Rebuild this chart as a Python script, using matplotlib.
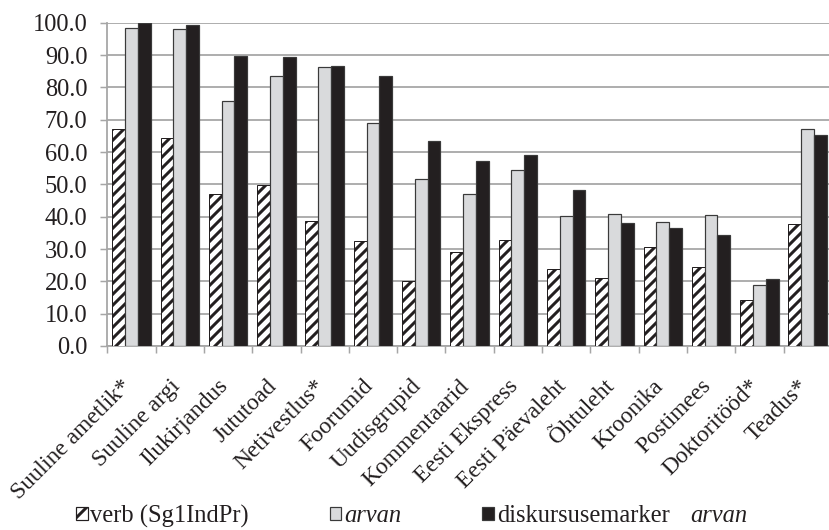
import numpy as np
import matplotlib
matplotlib.use("Agg")
import matplotlib.pyplot as plt
from matplotlib.patches import Patch
from matplotlib.ticker import FixedLocator, FormatStrFormatter
import matplotlib.transforms as mtransforms

categories = ['Suuline ametlik*', 'Suuline argi', 'Ilukirjandus', 'Jututoad',
              'Netivestlus*', 'Foorumid', 'Uudisgrupid', 'Kommentaarid',
              'Eesti Ekspress', 'Eesti Päevaleht', 'Õhtuleht', 'Kroonika',
              'Postimees', 'Doktoritööd*', 'Teadus*']
verb_sg1 = [67.1, 64.2, 47.0, 49.7, 38.7, 32.4, 20.2, 29.2, 32.8, 23.9,
            21.0, 30.7, 24.5, 14.2, 37.7]
arvan = [98.5, 98.0, 75.8, 83.4, 86.2, 69.1, 51.8, 47.0, 54.4, 40.3,
         40.7, 38.4, 40.5, 18.8, 67.1]
diskursusemarker = [100.0, 99.2, 89.7, 89.3, 86.6, 83.5, 63.5, 57.2, 59.0,
                    48.3, 38.1, 36.6, 34.3, 20.7, 65.2]
y_ticks = [0, 10, 20, 30, 40, 50, 60, 70, 80, 90, 100]

DPI = 132
W, H = 829, 530
PX = 72.0 / DPI  # points per pixel

plt.rcParams['font.family'] = ['Liberation Serif', 'DejaVu Serif']
plt.rcParams['hatch.linewidth'] = 3.0 * PX
plt.rcParams['hatch.color'] = '#231f20'

FS_Y = 24.5 * PX
FS_X = 23.5 * PX
FS_L = 24.5 * PX
TXT = '#231f20'
GRID = '#a6a6a6'
EDGE = '#3a3a3a'
GREY = '#d9dadc'
BLACK = '#231f20'

fig = plt.figure(figsize=(W / DPI, H / DPI), dpi=DPI)
left, bottom = 107.3 / W, (H - 346) / H
width, height = 15 * 48.3 / W, (346 - 22.7) / H
ax = fig.add_axes([left, bottom, width, height])

x = np.arange(len(categories)) + 0.5
bw = 0.265
ax.bar(x - bw, verb_sg1, bw, color='white', edgecolor=BLACK, hatch='////',
       linewidth=1.0 * PX, zorder=3)
ax.bar(x, arvan, bw, color=GREY, edgecolor=EDGE, linewidth=1.2 * PX, zorder=3)
ax.bar(x + bw, diskursusemarker, bw, color=BLACK, edgecolor=EDGE,
       linewidth=1.2 * PX, zorder=3)

ax.set_xlim(0, len(categories))
ax.set_ylim(0, 100)
ax.yaxis.set_major_locator(FixedLocator(y_ticks))
ax.yaxis.set_major_formatter(FormatStrFormatter('%.1f'))
ax.grid(axis='y', color=GRID, linewidth=1.8 * PX, zorder=0)
ax.set_axisbelow(True)

for s in ['top', 'right']:
    ax.spines[s].set_visible(False)
for s in ['left', 'bottom']:
    ax.spines[s].set_color(GRID)
    ax.spines[s].set_linewidth(1.8 * PX)

ax.tick_params(axis='y', length=7 * PX, width=1.5 * PX, color=GRID,
               pad=13 * PX, labelsize=FS_Y, labelcolor=TXT)

# category boundaries get tick marks, labels sit at group centres
ax.set_xticks(np.arange(len(categories) + 1), minor=True)
ax.tick_params(axis='x', which='minor', length=7 * PX, width=1.5 * PX,
               color=GRID)
ax.set_xticks(x)
ax.set_xticklabels(categories, rotation=45, ha='right', va='center',
                   rotation_mode='anchor', fontsize=FS_X, color=TXT)
ax.tick_params(axis='x', which='major', length=0, pad=37 * PX)
offset = mtransforms.ScaledTranslation(-3 / DPI, 0, fig.dpi_scale_trans)
for lbl in ax.get_xticklabels():
    lbl.set_transform(lbl.get_transform() + offset)

handles = [
    Patch(facecolor='white', edgecolor=BLACK, hatch='//', linewidth=1.2 * PX),
    Patch(facecolor=GREY, edgecolor=EDGE, linewidth=1.2 * PX),
    Patch(facecolor=BLACK, edgecolor=EDGE, linewidth=1.2 * PX),
]
labels = ['verb (Sg1IndPr)', 'arvan', 'diskursusemarker']
leg = fig.legend(handles, labels, loc='center left',
                 bbox_to_anchor=(76 / W, 1 - 516 / H), ncol=3, frameon=False,
                 fontsize=FS_L, handlelength=0.47, handleheight=0.42,
                 handletextpad=0.12, columnspacing=3.3, borderpad=0,
                 borderaxespad=0)
for t in leg.get_texts():
    t.set_color(TXT)
leg.get_texts()[1].set_fontstyle('italic')
fig.text(690 / W, 1 - 516 / H, 'arvan', fontsize=FS_L, fontstyle='italic',
         color=TXT, ha='left', va='center')

fig.savefig('out.png', dpi=DPI)
